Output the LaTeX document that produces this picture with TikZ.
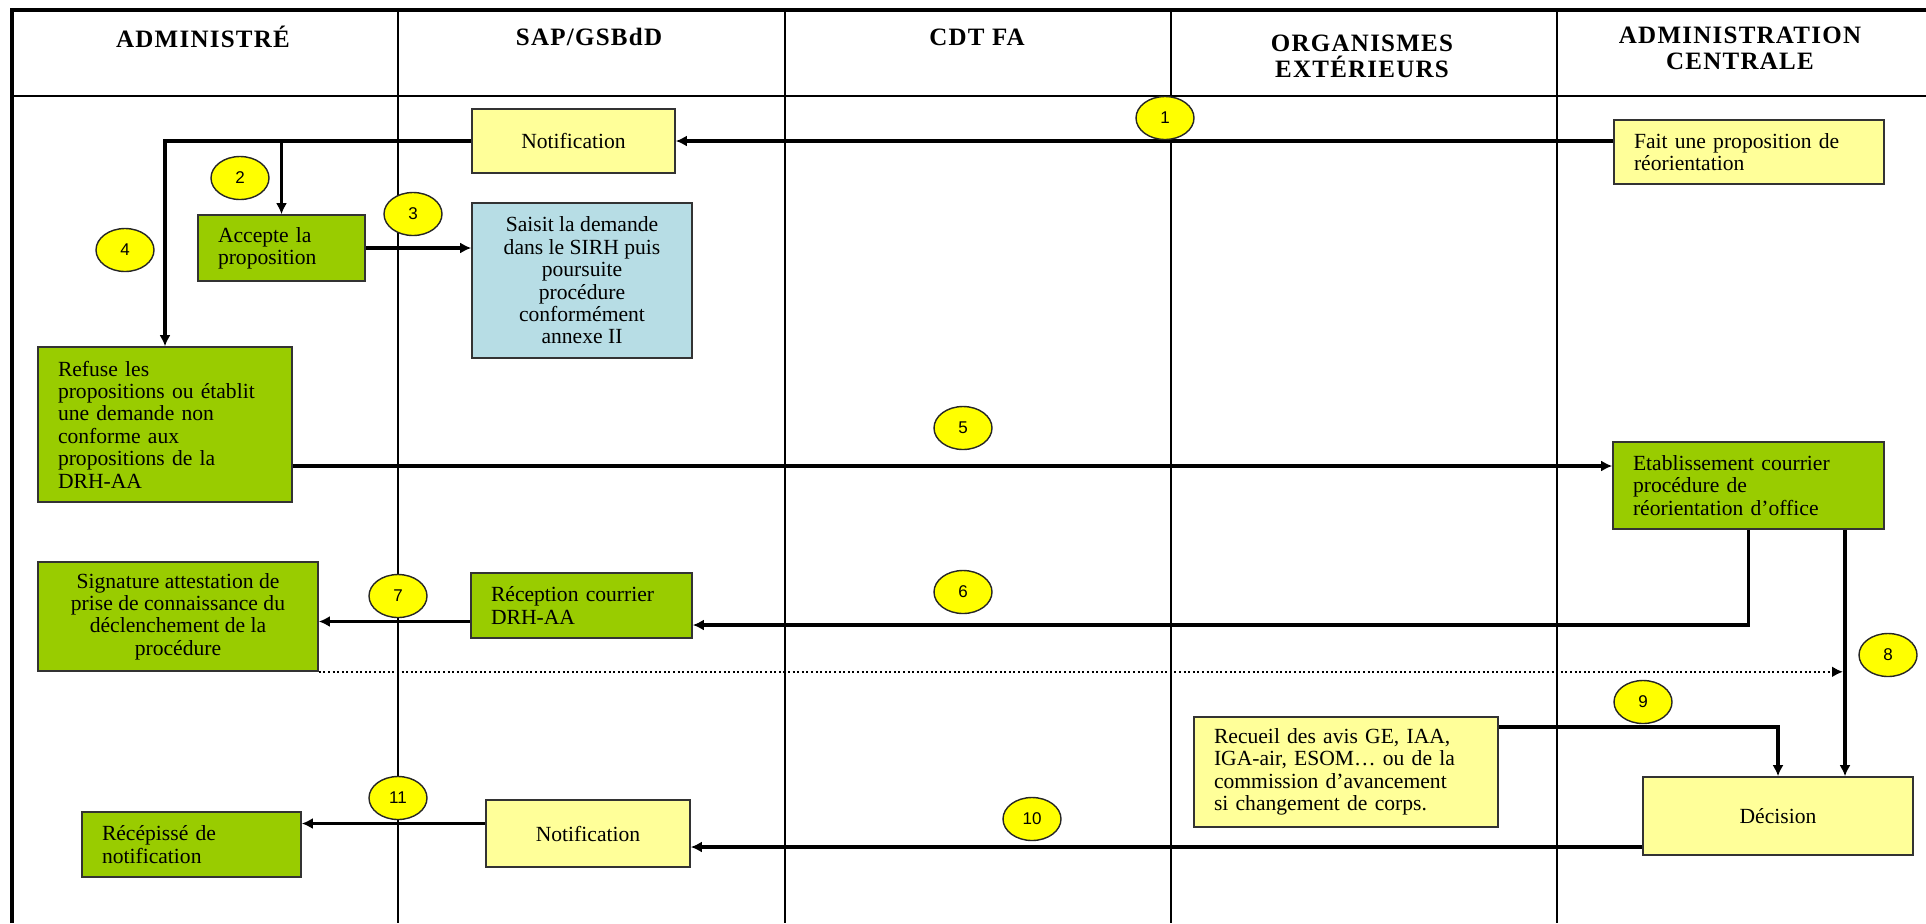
\documentclass[tikz,border=0pt]{standalone}
\usepackage{fontspec}
\setmainfont{Liberation Serif}
\newfontfamily\numfont{Liberation Sans}
\newfontfamily\hdrfont[LetterSpace=5]{Liberation Serif}
\usetikzlibrary{arrows.meta,shapes.geometric}
\definecolor{boxgreen}{HTML}{99CC00}
\definecolor{boxyellow}{HTML}{FFFF99}
\definecolor{boxblue}{HTML}{B7DDE5}
\definecolor{circyellow}{HTML}{FFFF00}
\begin{document}
\begin{tikzpicture}[x=0.5pt,y=-0.5pt,
 frame/.style={line width=2pt},
 lane/.style={line width=0.9pt},
 hdr/.style={font=\hdrfont\fontsize{12.5pt}{13pt}\selectfont\bfseries, align=center},
 box/.style={draw=black!80, line width=0.8pt, inner ysep=0pt, inner xsep=10pt, font=\fontsize{10.8pt}{11.2pt}\selectfont},
 gbox/.style={box, fill=boxgreen},
 ybox/.style={box, fill=boxyellow},
 bbox/.style={box, fill=boxblue},
 num/.style={ellipse, draw=black!85, line width=0.7pt, fill=circyellow, minimum width=29pt, minimum height=21.5pt, inner sep=0pt, font=\numfont\fontsize{8.5pt}{9pt}\selectfont},
 conn/.style={line width=1.7pt, -{Latex[length=5.5pt,width=5.5pt]}},
 dotconn/.style={line width=1.2pt, dash pattern=on 1pt off 1.3pt, -{Latex[length=5.5pt,width=5.5pt]}}
 ]
\useasboundingbox (0,0) rectangle (1926,923);
\fill[white] (0,0) rectangle (1926,923);
% lanes and frame
\draw[lane] (12,96) -- (1926,96);
\draw[lane] (398,10) -- (398,923);
\draw[lane] (785,10) -- (785,923);
\draw[lane] (1171,10) -- (1171,923);
\draw[lane] (1557,10) -- (1557,923);
\draw[frame] (12,923) -- (12,10) -- (1926,10);
% headers
\node[hdr] (h1) at (203,37) {ADMINISTRÉ};
\node[hdr] (h2) at (589,37) {SAP/GSBdD};
\node[hdr] (h3) at (977,37) {CDT FA};
\node[hdr] (h4) at (1362,56) {ORGANISMES\\EXTÉRIEURS};
\node[hdr] (h5) at (1740,48) {ADMINISTRATION\\CENTRALE};
% boxes
\node[ybox, minimum width=101.5pt, minimum height=32pt] (notif1) at (573.5,141) {Notification};
\node[ybox, minimum width=135pt, minimum height=32pt, text width=115pt, align=left] (fait) at (1749,152) {Fait une proposition de\\réorientation};
\node[gbox, minimum width=83.5pt, minimum height=33pt, text width=63.5pt, align=left] (accepte) at (281.5,248) {Accepte la\\proposition};
\node[bbox, minimum width=110pt, minimum height=77.5pt, align=center] (saisit) at (582,280.5) {Saisit la demande\\dans le SIRH puis\\poursuite\\procédure\\conformément\\annexe II};
\node[gbox, minimum width=127pt, minimum height=77.5pt, text width=107pt, align=left] (refuse) at (165,424.5) {Refuse les\\propositions ou établit\\une demande non\\conforme aux\\propositions de la\\DRH-AA};
\node[gbox, minimum width=135.5pt, minimum height=43.5pt, text width=115.5pt, align=left] (etab) at (1748.5,485.5) {Etablissement courrier\\procédure de\\réorientation d’office};
\node[gbox, minimum width=140pt, minimum height=54.5pt, align=center] (signature) at (178,616.5) {Signature attestation de\\prise de connaissance du\\déclenchement de la\\procédure};
\node[gbox, minimum width=110.5pt, minimum height=32.5pt, text width=90.5pt, align=left] (reception) at (581.5,605.5) {Réception courrier\\DRH-AA};
\node[ybox, minimum width=152pt, minimum height=55pt, text width=132pt, align=left] (recueil) at (1346,772) {Recueil des avis GE, IAA,\\IGA-air, ESOM… ou de la\\commission d’avancement\\si changement de corps.};
\node[ybox, minimum width=135pt, minimum height=39pt] (decision) at (1778,816) {Décision};
\node[ybox, minimum width=102pt, minimum height=33.5pt] (notif2) at (588,833.5) {Notification};
\node[gbox, minimum width=109.5pt, minimum height=32.5pt, text width=89.5pt, align=left] (recep) at (191.5,844.5) {Récépissé de\\notification};
% connectors
\draw[conn] (fait.west |- notif1.east) -- (notif1.east);
\draw[conn] (notif1.west) -| (refuse.north);
\draw[conn] (notif1.west -| accepte.north) -- (accepte.north);
\draw[conn] (accepte.east) -- (accepte.east -| saisit.west);
\coordinate (p5) at ([yshift=-20.75pt]refuse.east);
\draw[conn] (p5) -- (p5 -| etab.west);
\coordinate (p6) at ([yshift=-9.75pt]reception.east);
\draw[conn] (etab.south) |- (p6);
\coordinate (p7) at ([yshift=-8pt]reception.west);
\draw[conn] (p7) -- (p7 -| signature.east);
\coordinate (p8) at ([xshift=48.25pt]etab.south);
\draw[conn] (p8) -- (p8 |- decision.north);
\draw[dotconn] (signature.south east) -- ([xshift=-1pt]signature.south east -| p8);
\coordinate (p9) at ([yshift=22.5pt]recueil.east);
\draw[conn] (p9) -| (decision.north);
\coordinate (p10) at ([yshift=-15.5pt]decision.west);
\draw[conn] (p10) -- (p10 -| notif2.east);
\coordinate (p11) at ([yshift=5pt]notif2.west);
\draw[conn] (p11) -- (p11 -| recep.east);
% step numbers
\node[num] (n1) at (1165,118) {1};
\node[num] (n2) at (240,178) {2};
\node[num] (n3) at (413,214) {3};
\node[num] (n4) at (125,250) {4};
\node[num] (n5) at (963,428) {5};
\node[num] (n6) at (963,592) {6};
\node[num] (n7) at (398,596) {7};
\node[num] (n8) at (1888,655) {8};
\node[num] (n9) at (1643,702) {9};
\node[num] (n10) at (1032,819) {10};
\node[num] (n11) at (398,798) {11};
\end{tikzpicture}
\end{document}
